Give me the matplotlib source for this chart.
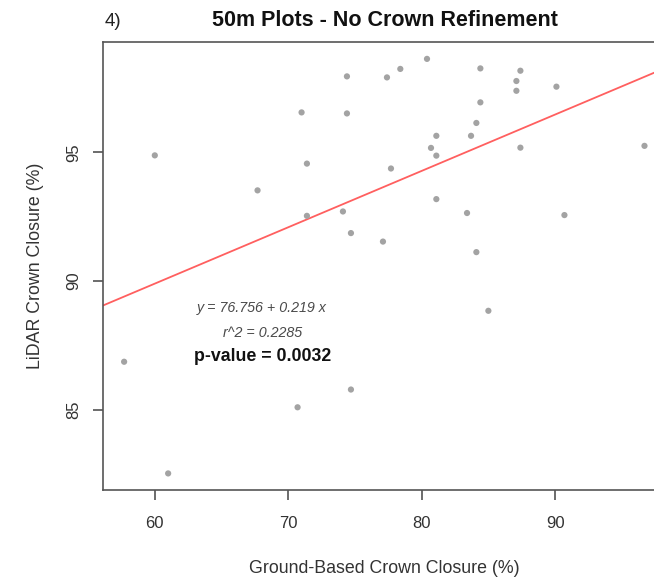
import matplotlib.pyplot as plt
import numpy as np

# --- data ---
ground_cc = [57.7, 60.0, 61.0, 67.7, 70.7, 71.0, 71.4, 71.4, 74.1, 74.4, 74.4, 74.7,
             74.7, 77.1, 77.4, 77.7, 78.4, 80.4, 80.7, 81.1, 81.1, 81.1, 83.4, 83.7,
             84.1, 84.1, 84.4, 84.4, 85.0, 87.1, 87.1, 87.4, 87.4, 90.1, 90.7, 96.7]
lidar_cc = [86.86, 94.88, 82.52, 93.52, 85.09, 96.55, 94.56, 92.53, 92.70, 97.95, 96.51, 91.86,
            85.78, 91.53, 97.91, 94.37, 98.24, 98.63, 95.17, 95.64, 94.87, 93.18, 92.64, 95.64,
            96.14, 91.12, 98.26, 96.94, 88.84, 97.77, 97.39, 98.17, 95.18, 97.55, 92.56, 95.25]
intercept, slope = 76.756, 0.219
r2, pval = 0.2285, 0.0032
x_ticks = [60, 70, 80, 90]
y_ticks = [85, 90, 95]

plt.rcParams['font.family'] = ['Liberation Sans', 'DejaVu Sans']

fig = plt.figure(figsize=(6.54, 5.78), dpi=100)
# axes run past the right edge of the canvas (reference is cropped there)
ax = fig.add_axes([103.3 / 654, 88 / 578, 562 / 654, 447.7 / 578])

ax.scatter(ground_cc, lidar_cc, s=20, color='#a3a3a3', edgecolors='none', zorder=3)
ax.axline((0, intercept), slope=slope, color='#ff5f5f', lw=1.3, zorder=2)

# R-style 4% padding
xr = max(ground_cc) - min(ground_cc)
yr = max(lidar_cc) - min(lidar_cc)
ax.set_xlim(min(ground_cc) - 0.04 * xr, max(ground_cc) + 0.04 * xr)
ax.set_ylim(min(lidar_cc) - 0.04 * yr, max(lidar_cc) + 0.04 * yr)

ax.set_xticks(x_ticks)
ax.set_yticks(y_ticks)
ax.tick_params(axis='both', direction='out', length=7.5, width=1.1, color='#444444',
               labelsize=12, labelcolor='#333333')
ax.tick_params(axis='x', pad=11.5)
ax.tick_params(axis='y', pad=8.5)
for lab in ax.get_yticklabels():
    lab.set_rotation(90)
    lab.set_va('center')
for sp in ax.spines.values():
    sp.set_color('#555555')
    sp.set_linewidth(1.2)

ax.set_xlabel('Ground-Based Crown Closure (%)', fontsize=12.8, color='#333333', labelpad=20.5)
ax.set_ylabel('LiDAR Crown Closure (%)', fontsize=12.8, color='#333333', labelpad=16)

# regression summary
ax.text(68.05, 88.95, f'y = {intercept} + {slope} x', fontsize=10.3, style='italic',
        color='#4a4a4a', ha='center', va='center')
ax.text(68.05, 87.98, f'r^2 = {r2}', fontsize=10.3, style='italic',
        color='#4a4a4a', ha='center', va='center')
ax.text(68.05, 87.05, f'p-value = {pval}', fontsize=12.8, fontweight='bold',
        color='#111111', ha='center', va='center')

fig.text(385 / 654, 1 - 20 / 578, '50m Plots - No Crown Refinement', fontsize=15.5,
         fontweight='bold', ha='center', va='center', color='#111111')
fig.text(113 / 654, 1 - 22 / 578, '4)', fontsize=13.5, ha='center', va='center', color='#222222')

fig.savefig('out.png', dpi=100)
